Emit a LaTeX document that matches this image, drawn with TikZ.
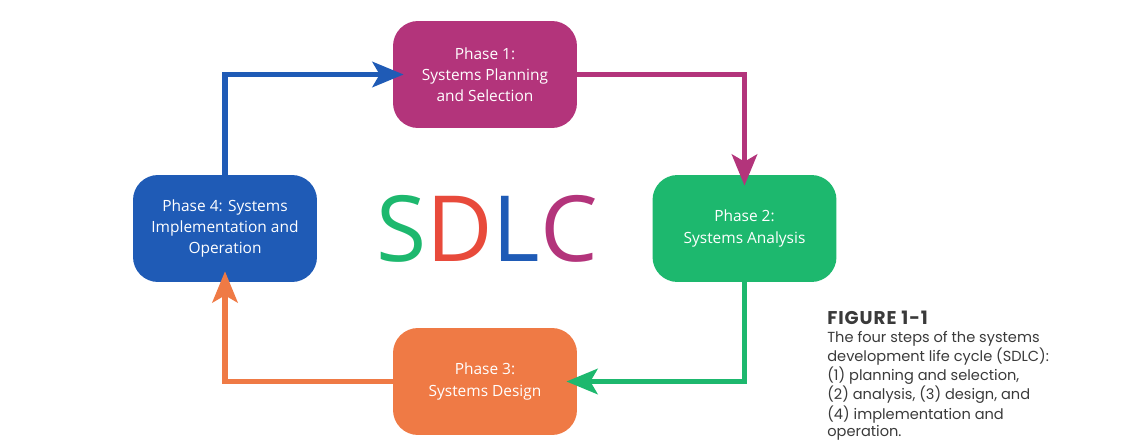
\documentclass[tikz,border=0pt]{standalone}
\usepackage{fontspec}
\setmainfont{Open Sans}
\newfontfamily\capfont{Poppins}
\usepackage{tikz}
\usetikzlibrary{arrows.meta,positioning,calc}

\definecolor{phaseA}{HTML}{B3347B}
\definecolor{phaseB}{HTML}{1DB86E}
\definecolor{phaseC}{HTML}{EF7A45}
\definecolor{phaseD}{HTML}{1F5BB6}
\definecolor{sdlcred}{HTML}{E84A3B}
\definecolor{captext}{HTML}{3A3A3A}

\begin{document}
\begin{tikzpicture}[x=0.02cm,y=-0.02cm]
\tikzset{
	phase node/.style = {rounded corners=0.5cm, minimum width=3.68cm, minimum height=2.14cm,
		text=white, align=center, font=\fontsize{8.8}{12}\selectfont},
	cycle line/.style = {line width=3.4pt, shorten >=-0.22cm,
		-{Stealth[length=0.62cm, width=0.5cm, inset=0.14cm]}},
}
\useasboundingbox (0,0) rectangle (1137,446);

\node(p1)[phase node, fill=phaseA] at (485,74.5) {Phase 1:\\Systems Planning\\and Selection};
\node(p2)[phase node, fill=phaseB] at (744.5,228.5) {Phase 2:\\Systems Analysis};
\node(p3)[phase node, fill=phaseC] at (485,381.5) {Phase 3:\\Systems Design};
\node(p4)[phase node, fill=phaseD] at (225,228.5) {Phase 4: Systems\\Implementation and\\Operation};

\draw[cycle line, phaseD] (p4.north) |- (p1.west);
\draw[cycle line, phaseA] (p1.east) -| (p2.north);
\draw[cycle line, phaseB] (p2.south) |- (p3.east);
\draw[cycle line, phaseC] (p3.west) -| (p4.south);

\node(sdlc) at (487,229) {\fontsize{52}{52}\selectfont
	\textcolor{phaseB}{S}\textcolor{sdlcred}{D}\textcolor{phaseD}{L}\textcolor{phaseA}{C}};

\node(cap)[anchor=north west, align=left, text=captext, inner sep=0pt,
	font=\capfont\fontsize{8.3}{9.9}\selectfont] at (827,311)
	{{\fontsize{10.5}{11}\selectfont\addfontfeature{LetterSpace=5}\textbf{FIGURE 1-1}}\\The four steps of the systems\\development life cycle (SDLC):\\(1) planning and selection,\\(2) analysis, (3) design, and\\(4) implementation and\\operation.};

\end{tikzpicture}
\end{document}
